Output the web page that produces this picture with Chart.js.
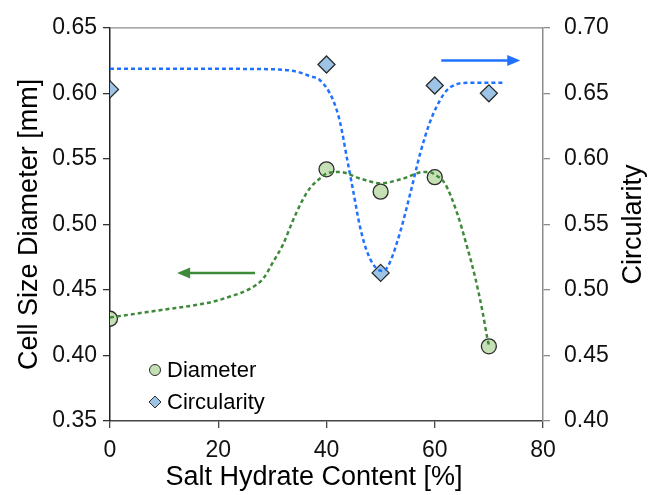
<!DOCTYPE html>
<html><head><meta charset="utf-8">
<script src="https://cdn.jsdelivr.net/npm/chart.js@4"></script>
<style>html,body{margin:0;padding:0;background:#fff}</style>
</head><body>
<canvas id="c" width="651" height="495"></canvas>
<script>
// ---- data ----
const saltContent = [0, 40, 50, 60, 70];
const diameter    = [0.428, 0.542, 0.525, 0.536, 0.407];
const circularity = [0.653, 0.672, 0.513, 0.656, 0.650];

const diamFitX = [0, 5, 10, 16.6, 19.5, 22.2, 24, 25.9, 27.2, 28.3, 30.1, 32, 33.8, 35.5, 37, 39.4, 40, 42.5, 46.2, 50, 54.2, 57.9, 59, 60, 61.9, 64.1, 65.9, 67.5, 68.8, 69.7, 70];
const diamFitY = [0.429, 0.432, 0.435, 0.439, 0.4415, 0.445, 0.4475, 0.451, 0.4545, 0.4586, 0.471, 0.485, 0.503, 0.518, 0.528, 0.537, 0.539, 0.540, 0.535, 0.5314, 0.535, 0.540, 0.540, 0.538, 0.531, 0.509, 0.484, 0.459, 0.434, 0.4135, 0.408];

const circFitX = [0, 10, 20, 28, 32, 35, 37, 38.8, 41.2, 42.5, 43.8, 45, 46.2, 47.7, 49.5, 50.5, 51.7, 53.6, 55.5, 57.3, 59.2, 61.6, 63, 66.5, 70, 72.6];
const circFitY = [0.6687, 0.6687, 0.6687, 0.6685, 0.668, 0.666, 0.663, 0.660, 0.645, 0.628, 0.600, 0.574, 0.548, 0.527, 0.5155, 0.5145, 0.521, 0.544, 0.574, 0.604, 0.629, 0.649, 0.655, 0.658, 0.658, 0.658];

const xTicks  = [0, 20, 40, 60, 80];
const yTicks  = [0.35, 0.40, 0.45, 0.50, 0.55, 0.60, 0.65];
const y2Ticks = [0.40, 0.45, 0.50, 0.55, 0.60, 0.65, 0.70];

const arrowCircX = [61.2, 75.8], arrowCircY = [0.675, 0.675];
const arrowDiamX = [26.8, 12.4], arrowDiamY = [0.463, 0.463];

const seriesNames = ['Diameter', 'Circularity'];
const titles = { x: 'Salt Hydrate Content [%]', y: 'Cell Size Diameter [mm]', y2: 'Circularity' };

// ---- styles ----
const GREEN_FILL = '#c5e0b4', BLUE_FILL = '#9dc3e6', EDGE = '#2b2b2b';
const GREEN_LINE = '#3f8a3a', BLUE_LINE = '#1f72ff';
const FONT = 'Liberation Sans, Arial, sans-serif';

const toPts = (xs, ys) => xs.map((x, i) => ({ x, y: ys[i] }));

const extras = {
  id: 'extras',
  afterDatasetsDraw(chart) {
    const { ctx, chartArea: a, scales } = chart;
    ctx.save();
    // top border
    ctx.strokeStyle = '#8c8c8c'; ctx.lineWidth = 1.3;
    ctx.beginPath(); ctx.moveTo(a.left, a.top); ctx.lineTo(a.right, a.top); ctx.stroke();
    // arrows
    const arrow = (xs, ys, yScale, color) => {
      const x0 = scales.x.getPixelForValue(xs[0]), x1 = scales.x.getPixelForValue(xs[1]);
      const y0 = scales[yScale].getPixelForValue(ys[0]), y1 = scales[yScale].getPixelForValue(ys[1]);
      const dir = Math.sign(x1 - x0);
      ctx.strokeStyle = color; ctx.fillStyle = color; ctx.lineWidth = 2.5;
      ctx.beginPath(); ctx.moveTo(x0, y0); ctx.lineTo(x1 - dir * 10, y1); ctx.stroke();
      ctx.beginPath(); ctx.moveTo(x1, y1); ctx.lineTo(x1 - dir * 13, y1 - 5.5); ctx.lineTo(x1 - dir * 13, y1 + 5.5); ctx.closePath(); ctx.fill();
    };
    arrow(arrowCircX, arrowCircY, 'y2', BLUE_LINE);
    arrow(arrowDiamX, arrowDiamY, 'y', GREEN_LINE);
    // legend
    const lx = a.left + 45;
    ctx.font = '22px ' + FONT; ctx.textBaseline = 'middle'; ctx.textAlign = 'left';
    ctx.lineWidth = 1;
    ctx.strokeStyle = EDGE;
    ctx.beginPath(); ctx.arc(lx, a.bottom - 51, 5.5, 0, Math.PI * 2); ctx.fillStyle = GREEN_FILL; ctx.fill(); ctx.stroke();
    ctx.fillStyle = '#000'; ctx.fillText(seriesNames[0], lx + 12, a.bottom - 50);
    const dy = a.bottom - 19;
    ctx.beginPath(); ctx.moveTo(lx, dy - 6); ctx.lineTo(lx + 6, dy); ctx.lineTo(lx, dy + 6); ctx.lineTo(lx - 6, dy); ctx.closePath();
    ctx.fillStyle = BLUE_FILL; ctx.fill(); ctx.stroke();
    ctx.fillStyle = '#000'; ctx.fillText(seriesNames[1], lx + 12, dy + 1);
    // axis titles
    ctx.font = '27px ' + FONT; ctx.textAlign = 'center'; ctx.textBaseline = 'middle';
    ctx.fillText(titles.x, 314, 478);
    const cy = (a.top + a.bottom) / 2;
    ctx.save(); ctx.translate(30, cy); ctx.rotate(-Math.PI / 2); ctx.fillText(titles.y, 0, 0); ctx.restore();
    ctx.save(); ctx.translate(634, cy); ctx.rotate(-Math.PI / 2); ctx.fillText(titles.y2, 0, 0); ctx.restore();
    ctx.restore();
  }
};

const tickFont = { family: FONT, size: 23 };

new Chart(document.getElementById('c'), {
  type: 'scatter',
  data: {
    datasets: [
      { label: 'Diameter fit', type: 'line', data: toPts(diamFitX, diamFitY), yAxisID: 'y',
        borderColor: GREEN_LINE, borderWidth: 2.5, borderDash: [4, 3], pointRadius: 0, cubicInterpolationMode: 'monotone', fill: false, order: 0 },
      { label: 'Circularity fit', type: 'line', data: toPts(circFitX, circFitY), yAxisID: 'y2',
        borderColor: BLUE_LINE, borderWidth: 2.5, borderDash: [4, 3], pointRadius: 0, cubicInterpolationMode: 'monotone', fill: false, order: 0 },
      { label: seriesNames[0], data: toPts(saltContent, diameter), yAxisID: 'y', pointStyle: 'circle',
        pointRadius: 7.5, backgroundColor: GREEN_FILL, borderColor: EDGE, borderWidth: 1.3, order: 1 },
      { label: seriesNames[1], data: toPts(saltContent, circularity), yAxisID: 'y2', pointStyle: 'rectRot',
        pointRadius: 8.5, backgroundColor: BLUE_FILL, borderColor: EDGE, borderWidth: 1.3, order: 1 }
    ]
  },
  options: {
    responsive: false, animation: false, devicePixelRatio: 1,
    layout: { padding: { top: 22, left: 0, right: 0, bottom: 0 } },
    plugins: { legend: { display: false }, tooltip: { enabled: false } },
    scales: {
      x: {
        type: 'linear', min: 0, max: 80,
        afterBuildTicks: s => { s.ticks = xTicks.map(v => ({ value: v })); },
        afterFit: s => { s.height = 74; },
        ticks: { font: tickFont, color: '#111', padding: 9, maxRotation: 0 },
        grid: { drawOnChartArea: false, drawTicks: true, tickLength: 7, color: '#444', lineWidth: 1.3 },
        border: { color: '#444', width: 1.5 }
      },
      y: {
        position: 'left', min: 0.35, max: 0.65,
        afterBuildTicks: s => { s.ticks = yTicks.map(v => ({ value: v })); },
        afterFit: s => { s.width = 110; },
        ticks: { font: tickFont, color: '#111', padding: 6, callback: v => v.toFixed(2) },
        grid: { drawOnChartArea: false, drawTicks: true, tickLength: 7, color: '#333', lineWidth: 1.3 },
        border: { color: '#222', width: 1.5 }
      },
      y2: {
        position: 'right', min: 0.40, max: 0.70,
        afterBuildTicks: s => { s.ticks = y2Ticks.map(v => ({ value: v })); },
        afterFit: s => { s.width = 108; },
        ticks: { font: tickFont, color: '#111', padding: 14, callback: v => v.toFixed(2) },
        grid: { drawOnChartArea: false, drawTicks: true, tickLength: 7, color: '#8c8c8c', lineWidth: 1.3 },
        border: { color: '#8c8c8c', width: 1.5 }
      }
    }
  },
  plugins: [extras]
});
</script>
</body></html>
